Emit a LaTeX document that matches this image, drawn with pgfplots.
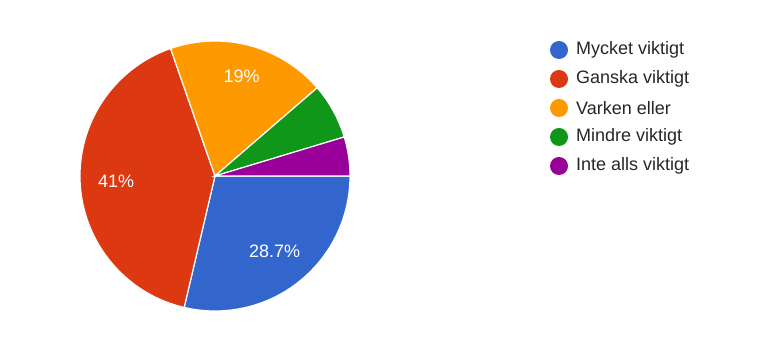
\documentclass[border=0pt]{standalone}
\usepackage{pgfplots}
\pgfplotsset{compat=1.18}
\usetikzlibrary{calc}
\usepackage{fontspec}
\setmainfont{Liberation Sans}
\definecolor{c1}{HTML}{3366CC}
\definecolor{c2}{HTML}{DC3912}
\definecolor{c3}{HTML}{FF9900}
\definecolor{c4}{HTML}{109618}
\definecolor{c5}{HTML}{990099}
% counts (total 300): Mycket 86, Ganska 123, Varken 57, Mindre 20, Inte alls 14
\def\R{135}
\begin{document}
\begin{tikzpicture}
\begin{axis}[x=1pt,y=1pt,xmin=0,xmax=768,ymin=0,ymax=363,hide axis,
  scale only axis, clip=false]
\path (axis cs:0,0) rectangle (axis cs:768,363);
% slices: center (215,187), start at east, clockwise; 1 count = 1.2 deg
\filldraw[fill=c1,draw=white,line width=1.2pt] (axis cs:215,187) -- ++(0:\R pt) arc[start angle=0,end angle={-1.2*86},radius=\R pt] -- cycle;
\filldraw[fill=c2,draw=white,line width=1.2pt] (axis cs:215,187) -- ++({-1.2*86}:\R pt) arc[start angle={-1.2*86},end angle={-1.2*(86+123)},radius=\R pt] -- cycle;
\filldraw[fill=c3,draw=white,line width=1.2pt] (axis cs:215,187) -- ++({-1.2*209}:\R pt) arc[start angle={-1.2*209},end angle={-1.2*(209+57)},radius=\R pt] -- cycle;
\filldraw[fill=c4,draw=white,line width=1.2pt] (axis cs:215,187) -- ++({-1.2*266}:\R pt) arc[start angle={-1.2*266},end angle={-1.2*(266+20)},radius=\R pt] -- cycle;
\filldraw[fill=c5,draw=white,line width=1.2pt] (axis cs:215,187) -- ++({-1.2*286}:\R pt) arc[start angle={-1.2*286},end angle={-1.2*(286+14)},radius=\R pt] -- cycle;
% labels
\tikzset{pl/.style={text=white,font=\fontsize{18}{21}\selectfont,inner sep=0pt}}
\node[pl] at ($(axis cs:215,187)+({-1.2*43}:96pt)$) {28.7\%};
\node[pl] at ($(axis cs:215,187)+({-1.2*147.5}:99pt)$) {41\%};
\node[pl] at ($(axis cs:215,187)+({-1.2*237.5}:103pt)$) {19\%};
% legend
\tikzset{lt/.style={anchor=west,font=\fontsize{18}{21}\selectfont,text=black!85,inner sep=0pt}}
\fill[c1] (axis cs:559,313) circle[radius=9pt];
\node[lt] at (axis cs:576,313) {Mycket viktigt};
\fill[c2] (axis cs:559,284) circle[radius=9pt];
\node[lt] at (axis cs:576,284) {Ganska viktigt};
\fill[c3] (axis cs:559,255) circle[radius=9pt];
\node[lt] at (axis cs:576,255) {Varken eller};
\fill[c4] (axis cs:559,226) circle[radius=9pt];
\node[lt] at (axis cs:576,226) {Mindre viktigt};
\fill[c5] (axis cs:559,197) circle[radius=9pt];
\node[lt] at (axis cs:576,197) {Inte alls viktigt};
\end{axis}
\end{tikzpicture}
\end{document}
